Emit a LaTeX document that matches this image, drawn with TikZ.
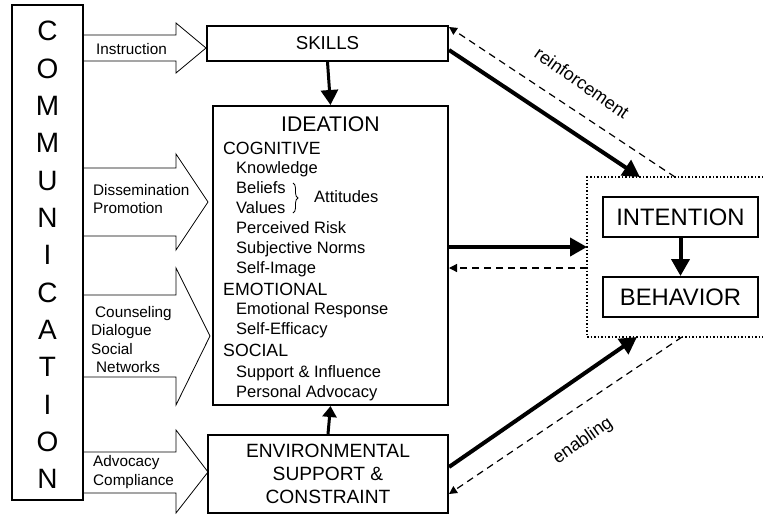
\documentclass[tikz,border=0pt]{standalone}
\usepackage{fontspec}
\setmainfont{Liberation Sans}
\usetikzlibrary{arrows.meta,decorations.pathreplacing}

\begin{document}
\begin{tikzpicture}[x=1pt,y=-1pt,
    box/.style={draw,line width=2pt,inner sep=0pt},
    fat/.style={draw,line width=0.8pt,fill=white},
    lbl/.style={inner sep=0pt,anchor=west,align=left,font=\fontsize{15.3}{18.3}\selectfont},
    slant/.style={inner sep=0pt,font=\fontsize{18}{20}\selectfont},
    head/.style={inner sep=0pt,anchor=west,text height=12.7pt,text depth=0pt,font=\fontsize{17.7}{20}\selectfont},
    item/.style={inner sep=0pt,anchor=west,text height=11.9pt,text depth=0pt,font=\fontsize{16.5}{20}\selectfont},
    heavy/.style={line width=4pt,-{Triangle[length=17pt,width=18pt]}},
    back/.style={line width=1.2pt,dash pattern=on 7pt off 5pt,-{Triangle[length=8pt,width=8pt]}}]
    \useasboundingbox (0,0) rectangle (763,515);
    \draw[fat] (84,35) -- (176,35) -- (176,23) -- (206,48) -- (176,73) -- (176,61) -- (84,61);
    \draw[fat] (84,168) -- (176,168) -- (176,154) -- (208,202) -- (176,250) -- (176,236) -- (84,236);
    \draw[fat] (84,295) -- (176,295) -- (176,268) -- (210,336) -- (176,405) -- (176,377) -- (84,377);
    \draw[fat] (84,452) -- (176,452) -- (176,430) -- (208,472) -- (176,513) -- (176,493) -- (84,493);
    \node[box,line width=2.5pt,minimum width=71pt,minimum height=495pt] (comm) at (47.5,252.5) {};
    \node[inner sep=0pt,align=center,font=\fontsize{28}{37.33}\selectfont] (commtext) at (47.5,255)
        {C\\O\\M\\M\\U\\N\\I\\C\\A\\T\\I\\O\\N};
    \node[lbl] (instr) at (96,49) {Instruction};
    \node[lbl] (dissem) at (93,199) {Dissemination\\Promotion};
    \node[lbl] (couns) at (91,339.5) {\hspace*{4pt}Counseling\\Dialogue\\Social\\\hspace*{5pt}Networks};
    \node[lbl] (advo) at (93,472) {Advocacy\\Compliance};
    \node[box,minimum width=241pt,minimum height=35pt,font=\fontsize{18.7}{22}\selectfont] (skills) at (327.5,43.5) {SKILLS};
    \node[box,minimum width=235pt,minimum height=299pt] (idea) at (330.5,255.5) {};
    \node[inner sep=0pt,font=\fontsize{21.2}{24}\selectfont] (ideatitle) at (330.5,124) {IDEATION};
    \node[head] (cog) at (223,148) {COGNITIVE};
    \node[item] (know) at (236,168) {Knowledge};
    \node[item] (belief) at (236,188) {Beliefs};
    \node[item] (value) at (236,208) {Values};
    \node[item] (risk) at (236,228) {Perceived Risk};
    \node[item] (norm) at (236,248) {Subjective Norms};
    \node[item] (image) at (236,268) {Self-Image};
    \node[head] (emo) at (223,289) {EMOTIONAL};
    \node[item] (resp) at (236,309) {Emotional Response};
    \node[item] (effic) at (236,329) {Self-Efficacy};
    \node[head] (soc) at (223,350) {SOCIAL};
    \node[item] (supp) at (236,372) {Support \& Influence};
    \node[item] (advoc) at (236,392) {Personal Advocacy};
    \draw[decorate,decoration={brace,amplitude=5pt},line width=0.8pt] (293,183) -- (293,213);
    \node[item] (attit) at (314,197) {Attitudes};
    \node[box,minimum width=240pt,minimum height=78pt,align=center,font=\fontsize{19.2}{23}\selectfont] (env) at (328,474)
        {ENVIRONMENTAL\\SUPPORT \&\\CONSTRAINT};
    \draw[line width=1.5pt,dash pattern=on 1.5pt off 2pt] (770,177) -- (587,177) -- (587,337) -- (770,337);
    \coordinate (ftop1) at (640,177);
    \coordinate (ftop2) at (675,177);
    \coordinate (fleft1) at (587,247);
    \coordinate (fleft2) at (587,268);
    \coordinate (fbot1) at (637,337);
    \coordinate (fbot2) at (682,337);
    \node[box,minimum width=155pt,minimum height=40pt,font=\fontsize{23.8}{26}\selectfont] (intent) at (680.5,217) {INTENTION};
    \node[box,minimum width=155pt,minimum height=40pt,font=\fontsize{23.8}{26}\selectfont] (behav) at (680.5,297) {BEHAVIOR};
    \draw[heavy,line width=3pt,-{Triangle[length=15pt,width=17pt]}] (skills.south) -- (idea.north);
    \draw[heavy,line width=3pt,-{Triangle[length=11pt,width=14pt]}] (env.north) -- (idea.south);
    \draw[heavy] (intent) -- (behav);
    \draw[heavy] ([yshift=-6.5pt]skills.east) -- (ftop1);
    \draw[back] (ftop2) -- ([yshift=-2pt]skills.north east);
    \draw[heavy] (idea.east |- fleft1) -- (fleft1);
    \draw[back] (fleft2) -- (idea.east |- fleft2);
    \draw[heavy] ([yshift=7pt]env.east) -- (fbot1);
    \draw[back] (fbot2) -- ([yshift=-20pt]env.east);
    \node[slant,rotate=-35] (reinf) at (582,83) {reinforcement};
    \node[slant,rotate=35] (enab) at (583,441) {enabling};
\end{tikzpicture}
\end{document}
